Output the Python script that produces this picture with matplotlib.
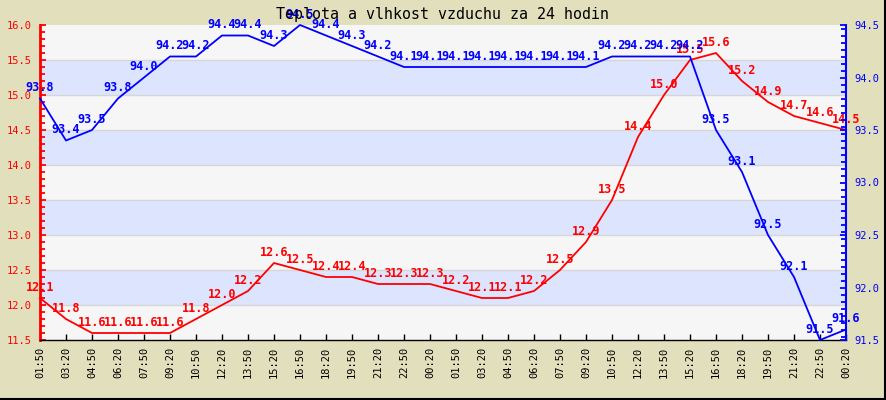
import matplotlib
matplotlib.use("Agg")
import matplotlib.pyplot as plt
from matplotlib.ticker import MultipleLocator
from matplotlib.lines import Line2D
import numpy as np

title = "Teplota a vlhkost vzduchu za 24 hodin"
times = ["01:50", "03:20", "04:50", "06:20", "07:50", "09:20", "10:50", "12:20",
         "13:50", "15:20", "16:50", "18:20", "19:50", "21:20", "22:50", "00:20",
         "01:50", "03:20", "04:50", "06:20", "07:50", "09:20", "10:50", "12:20",
         "13:50", "15:20", "16:50", "18:20", "19:50", "21:20", "22:50", "00:20"]
temperature = [12.1, 11.8, 11.6, 11.6, 11.6, 11.6, 11.8, 12.0, 12.2, 12.6, 12.5,
               12.4, 12.4, 12.3, 12.3, 12.3, 12.2, 12.1, 12.1, 12.2, 12.5, 12.9,
               13.5, 14.4, 15.0, 15.5, 15.6, 15.2, 14.9, 14.7, 14.6, 14.5]
humidity = [93.8, 93.4, 93.5, 93.8, 94.0, 94.2, 94.2, 94.4, 94.4, 94.3, 94.5,
            94.4, 94.3, 94.2, 94.1, 94.1, 94.1, 94.1, 94.1, 94.1, 94.1, 94.1,
            94.2, 94.2, 94.2, 94.2, 93.5, 93.1, 92.5, 92.1, 91.5, 91.6]
temp_range = (11.5, 16.0)
hum_range = (91.5, 94.5)

BG = "#E2E0BC"
BAND_A = "#F6F6F6"
BAND_B = "#DDE4FE"
GRID = "#D6D6D6"
RED = "#FF0000"
BLUE = "#0000FF"
MONO = "DejaVu Sans Mono"

fig = plt.figure(figsize=(8.86, 4.0), dpi=100, facecolor=BG)
ax = fig.add_axes([40/886, 60/400, 806/886, 315/400])
ax.set_facecolor(BAND_A)
x = np.arange(len(times))

# alternating bands
edges = np.arange(temp_range[0], temp_range[1] + 0.001, 0.5)
for i in range(len(edges) - 1):
    idx_from_top = len(edges) - 2 - i
    col = BAND_A if idx_from_top % 2 == 0 else BAND_B
    ax.axhspan(edges[i], edges[i + 1], color=col, lw=0, zorder=0)
for e in edges[1:-1]:
    ax.axhline(e, color=GRID, lw=1.0, zorder=0.5)

ax.set_xlim(0, len(times) - 1)
ax.set_ylim(*temp_range)
ax.plot(x, temperature, color=RED, lw=1.3, zorder=3, clip_on=False)
for xi, v in zip(x, temperature):
    ax.annotate(f"{v:.1f}", (xi, v), xytext=(0, 3), textcoords="offset points",
                ha="center", va="bottom", color=RED, fontsize=8.5,
                fontweight="bold", family=MONO, zorder=4, annotation_clip=False)

ax.set_xticks(x)
ax.set_xticklabels(times, rotation=90, family=MONO, fontsize=7.5)
ax.yaxis.set_major_locator(MultipleLocator(0.5))
ax.yaxis.set_minor_locator(MultipleLocator(0.1))
ax.set_yticklabels([f"{v:.1f}" for v in ax.get_yticks()])
ax.tick_params(axis="y", which="both", direction="in", colors=RED, labelcolor=RED,
               labelsize=7.5, pad=6, width=1.3)
ax.tick_params(axis="y", which="major", length=4.5)
ax.tick_params(axis="y", which="minor", length=3.5)
ax.tick_params(axis="x", which="major", direction="in", length=4, width=1,
               colors="black", pad=5)
for lab in ax.get_yticklabels():
    lab.set_family(MONO)
ax.spines["left"].set_color(RED)
ax.spines["left"].set_linewidth(2)
ax.spines["bottom"].set_color("black")
ax.spines["bottom"].set_linewidth(1)
ax.spines["top"].set_visible(False)
ax.spines["right"].set_visible(False)

ax2 = ax.twinx()
ax2.set_ylim(*hum_range)
ax2.plot(x, humidity, color=BLUE, lw=1.3, zorder=3, clip_on=False)
for xi, v in zip(x, humidity):
    ax2.annotate(f"{v:.1f}", (xi, v), xytext=(0, 3), textcoords="offset points",
                 ha="center", va="bottom", color=BLUE, fontsize=8.5,
                 fontweight="bold", family=MONO, zorder=4, annotation_clip=False)
ax2.yaxis.set_major_locator(MultipleLocator(0.5))
ax2.yaxis.set_minor_locator(MultipleLocator(1/15))
ax2.set_yticklabels([f"{v:.1f}" for v in ax2.get_yticks()])
for lab in ax2.get_yticklabels():
    lab.set_family(MONO)
ax2.tick_params(axis="y", which="both", direction="in", colors=BLUE, labelcolor=BLUE,
                labelsize=7.5, pad=6, width=1.3)
ax2.tick_params(axis="y", which="major", length=4.5)
ax2.tick_params(axis="y", which="minor", length=3.5)
ax2.spines["right"].set_color(BLUE)
ax2.spines["right"].set_linewidth(1.5)
for s in ("left", "top", "bottom"):
    ax2.spines[s].set_visible(False)

fig.text(0.5, 1 - 14/400, title, ha="center", va="center", family=MONO,
         fontsize=10.8, color="black")

# figure border (right & bottom dark edge)
fig.add_artist(Line2D([0.9985, 0.9985], [0, 1], transform=fig.transFigure,
                      color="black", lw=1.5))
fig.add_artist(Line2D([0, 1], [0.002, 0.002], transform=fig.transFigure,
                      color="black", lw=1.5))

fig.savefig("out.png", dpi=100, facecolor=BG)
